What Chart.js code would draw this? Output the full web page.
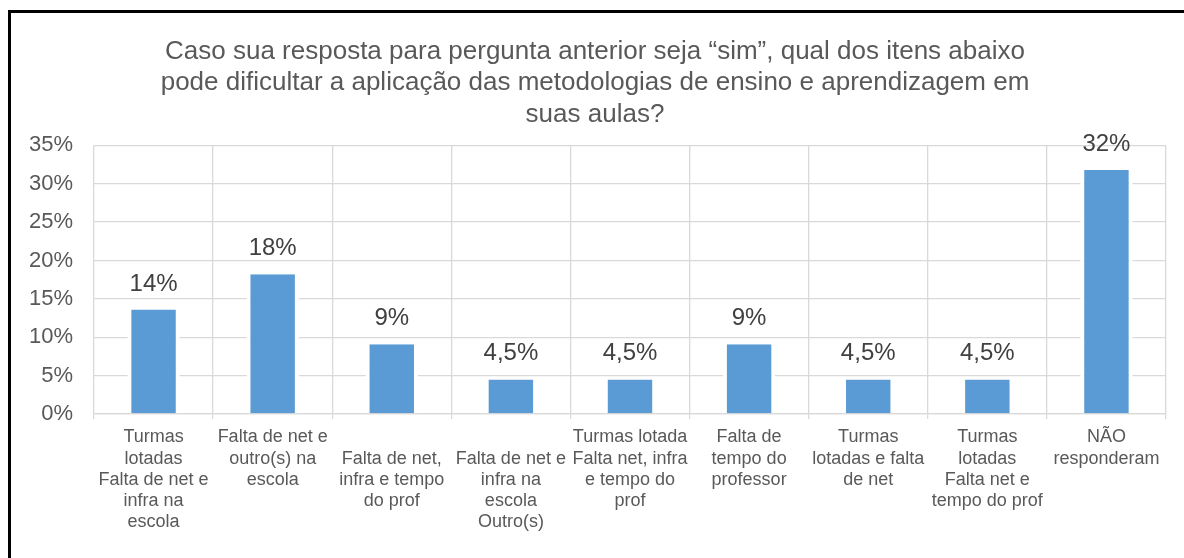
<!DOCTYPE html>
<html>
<head>
<meta charset="utf-8">
<script src="https://cdn.jsdelivr.net/npm/chart.js@4.4.0/dist/chart.umd.min.js"></script>
<style>
  html, body { margin: 0; padding: 0; background: #fff; }
  #frame { position: absolute; left: 8px; top: 10px; width: 1200px; height: 600px;
           border-top: 3px solid #000; border-left: 3px solid #000; }
  #wrap { position: absolute; left: 0; top: 0; width: 1184px; height: 558px; }
</style>
</head>
<body>
<div id="frame"></div>
<div id="wrap"><canvas id="chart-canvas" width="1184" height="558"></canvas></div>
<script>
// categories (already wrapped the way the original labels are)
var categories = [
    ["Turmas", "lotadas", "Falta de net e", "infra na", "escola"],
    ["Falta de net e", "outro(s) na", "escola"],
    ["", "Falta de net,", "infra e tempo", "do prof"],
    ["", "Falta de net e", "infra na", "escola", "Outro(s)"],
    ["Turmas lotada", "Falta net, infra", "e tempo do", "prof"],
    ["Falta de", "tempo do", "professor"],
    ["Turmas", "lotadas e falta", "de net"],
    ["Turmas", "lotadas", "Falta net e", "tempo do prof"],
    ["NÃO", "responderam"]
];
var percentValues = [13.6, 18.2, 9.1, 4.5, 4.5, 9.1, 4.5, 4.5, 31.8];
var valueLabels = ["14%", "18%", "9%", "4,5%", "4,5%", "9%", "4,5%", "4,5%", "32%"];
var titleLines = [
    "Caso sua resposta para pergunta anterior seja \u201csim\u201d, qual dos itens abaixo",
    "pode dificultar a aplicação das metodologias de ensino e aprendizagem em",
    "suas aulas?"
];

var barLabels = {
    id: 'barLabels',
    afterDatasetsDraw: function(chart) {
        var ctx = chart.ctx;
        var meta = chart.getDatasetMeta(0);
        ctx.save();
        ctx.font = '24px "Liberation Sans", Arial, sans-serif';
        ctx.fillStyle = '#404040';
        ctx.textAlign = 'center';
        ctx.textBaseline = 'alphabetic';
        meta.data.forEach(function(bar, i) {
            ctx.fillText(valueLabels[i], bar.x, bar.y - 19);
        });
        ctx.restore();
    }
};

var ctx = document.getElementById('chart-canvas');
var chart = new Chart(ctx, {
    type: 'bar',
    data: {
        labels: categories,
        datasets: [{
            data: percentValues,
            backgroundColor: '#5B9BD5',
            borderColor: '#ffffff',
            borderWidth: { left: 4, right: 4, top: 0, bottom: 0 },
            borderSkipped: false,
            barPercentage: 0.44,
            categoryPercentage: 1
        }]
    },
    options: {
        responsive: false,
        animation: false,
        events: [],
        layout: { padding: { left: 24, right: 18, top: 0, bottom: 0 } },
        plugins: {
            legend: { display: false },
            tooltip: { enabled: false },
            title: {
                display: true,
                text: titleLines,
                color: '#595959',
                font: { family: '"Liberation Sans", Arial, sans-serif', size: 26, weight: 'normal', lineHeight: 1.21 },
                padding: { top: 36, bottom: 15 }
            }
        },
        scales: {
            x: {
                grid: { color: '#d9d9d9', lineWidth: 1.3, offset: true, tickLength: 5 },
                border: { color: '#d9d9d9', width: 1.3 },
                ticks: {
                    color: '#595959',
                    padding: 8,
                    maxRotation: 0,
                    autoSkip: false,
                    font: { family: '"Liberation Sans", Arial, sans-serif', size: 18, lineHeight: 1.17 }
                },
                afterFit: function(scale) { scale.height = 144; }
            },
            y: {
                min: 0,
                max: 35,
                grid: { color: '#d9d9d9', lineWidth: 1.3, drawTicks: false },
                border: { display: false },
                ticks: {
                    stepSize: 5,
                    color: '#595959',
                    padding: 21,
                    font: { family: '"Liberation Sans", Arial, sans-serif', size: 22 },
                    callback: function(v) { return v + '%'; }
                },
                afterFit: function(scale) { scale.width = 70; }
            }
        }
    },
    plugins: [barLabels]
});
</script>
</body>
</html>
